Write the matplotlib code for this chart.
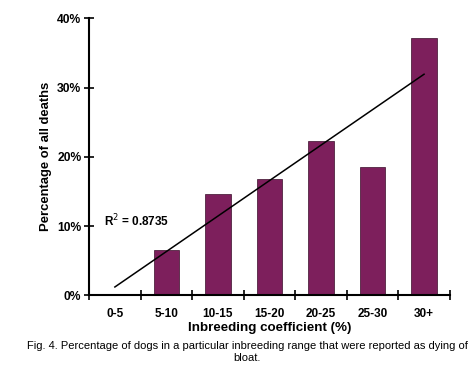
import matplotlib
matplotlib.use("Agg")
import matplotlib.pyplot as plt
import numpy as np

categories = ["0-5", "5-10", "10-15", "15-20", "20-25", "25-30", "30+"]
values = [0.0, 6.5, 14.6, 16.75, 22.3, 18.6, 37.2]
yticks = [0, 10, 20, 30, 40]
ytick_labels = ["0%", "10%", "20%", "30%", "40%"]
r2_label = "R$^{2}$ = 0.8735"

plt.rcParams['font.family'] = ['Liberation Sans', 'DejaVu Sans']

fig = plt.figure(figsize=(4.74, 3.69), dpi=100)
ax = fig.add_axes([0.188, 0.2, 0.761, 0.75])

x = np.arange(len(categories))
ax.bar(x, values, width=0.5, color="#7D1F5C", edgecolor="#3a0d2a", linewidth=0.5, zorder=2)

coef = np.polyfit(x, values, 1)
ax.plot([x[0], x[-1]], np.polyval(coef, [x[0], x[-1]]), color="black", lw=1.1, zorder=3)

ax.set_xlim(-0.5, len(categories) - 0.5)
ax.set_ylim(0, 40)
ax.set_yticks(yticks)
ax.set_yticklabels(ytick_labels, fontsize=8.7, fontweight="bold")
ax.set_xticks(np.arange(-0.5, len(categories)))
ax.set_xticklabels([])
ax.set_xticks(x, minor=True)
ax.set_xticklabels(categories, minor=True, fontsize=8.5, fontweight="bold")
ax.tick_params(axis="x", which="minor", length=0, pad=9)
ax.tick_params(axis="x", which="major", direction="inout", length=7, width=1.2)
ax.tick_params(axis="y", direction="inout", length=7, width=1.2, pad=2)

for s in ["top", "right"]:
    ax.spines[s].set_visible(False)
for s in ["left", "bottom"]:
    ax.spines[s].set_linewidth(1.5)

ax.set_ylabel("Percentage of all deaths", fontsize=9.4, fontweight="bold", labelpad=4)
ax.set_xlabel("Inbreeding coefficient (%)", fontsize=9.6, fontweight="bold", labelpad=2)

ax.text(-0.22, 10.7, r2_label, fontsize=8.5, fontweight="bold", va="center", ha="left")

fig.text(0.521, 0.046, "Fig. 4. Percentage of dogs in a particular inbreeding range that were reported as dying of\nbloat.",
         ha="center", va="center", fontsize=8.05, linespacing=1.3)

fig.savefig("out.png", dpi=100)
